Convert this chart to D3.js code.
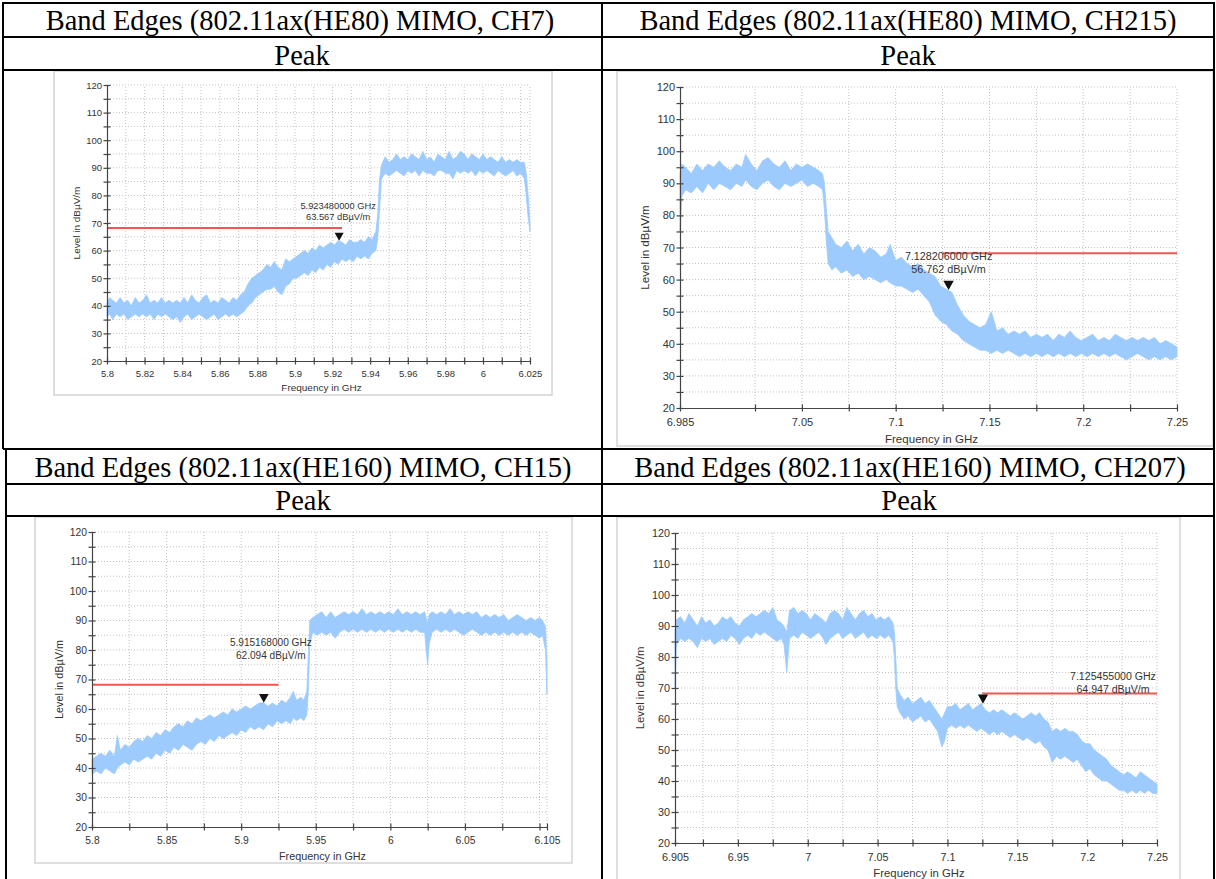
<!DOCTYPE html>
<html lang="en">
<head>
<meta charset="utf-8">
<title>Band Edges - Peak</title>
<style>
  body { margin: 0; background: #fff; }
  .cell-text { font-family: "Liberation Serif", "Times New Roman", serif; fill: #000; }
  .chart text { font-family: "Liberation Sans", Arial, sans-serif; fill: #333; }
  .grid line { stroke: #c2c2c2; stroke-width: 1; stroke-dasharray: 1,2; }
  .axis path, .axis line { stroke: #444; stroke-width: 1.2; }
</style>
<script src="https://d3js.org/d3.v7.min.js"></script>
</head>
<body>
<svg width="1216" height="879"></svg>
<script>
// ---- data ----
var titles = [
  "Band Edges (802.11ax(HE80) MIMO, CH7)",
  "Band Edges (802.11ax(HE80) MIMO, CH215)",
  "Band Edges (802.11ax(HE160) MIMO, CH15)",
  "Band Edges (802.11ax(HE160) MIMO, CH207)"
];
var detector = "Peak";

var yTicks = [20, 25, 30, 35, 40, 45, 50, 55, 60, 65, 70, 75, 80, 85, 90, 95, 100, 105, 110, 115, 120];
var yLabels = [20, 30, 40, 50, 60, 70, 80, 90, 100, 110, 120];

var ch7Ticks = [5.8, 5.81, 5.82, 5.83, 5.84, 5.85, 5.86, 5.87, 5.88, 5.89, 5.9, 5.91, 5.92, 5.93, 5.94, 5.95, 5.96, 5.97, 5.98, 5.99, 6, 6.01, 6.02, 6.025];
var ch7Labels = [5.8, 5.82, 5.84, 5.86, 5.88, 5.9, 5.92, 5.94, 5.96, 5.98, 6, 6.025];
var ch215Ticks = [6.985, 7.025, 7.05, 7.075, 7.1, 7.125, 7.15, 7.175, 7.2, 7.225, 7.25];
var ch215Labels = [6.985, 7.05, 7.1, 7.15, 7.2, 7.25];
var ch15Ticks = [5.8, 5.825, 5.85, 5.875, 5.9, 5.925, 5.95, 5.975, 6, 6.025, 6.05, 6.075, 6.1, 6.105];
var ch15Labels = [5.8, 5.85, 5.9, 5.95, 6, 6.05, 6.105];
var ch207Ticks = [6.905, 6.925, 6.95, 6.975, 7, 7.025, 7.05, 7.075, 7.1, 7.125, 7.15, 7.175, 7.2, 7.225, 7.25];
var ch207Labels = [6.905, 6.95, 7, 7.05, 7.1, 7.15, 7.2, 7.25];

// limit line level (dBµV/m) and its frequency span per plot
var limitLevel = 68.2;
var ch7Limit = [5.8, 5.925];
var ch215Limit = [7.125, 7.25];
var ch15Limit = [5.8, 5.925];
var ch207Limit = [7.125, 7.25];

// peak markers [GHz, dBµV/m]
var ch7Marker = [5.92348, 63.567];
var ch215Marker = [7.128206, 56.762];
var ch15Marker = [5.915168, 62.094];
var ch207Marker = [7.125455, 64.947];

// noisy trace as envelope: [GHz, low, high]
var ch7Trace = [
  [5.800, 36, 41], [5.8015, 37, 43], [5.803, 35, 42], [5.805, 37, 41], [5.807, 36, 43],
  [5.809, 37, 41], [5.811, 35, 42], [5.813, 36, 40], [5.815, 37, 43], [5.817, 36, 41],
  [5.819, 37, 42], [5.821, 36, 44], [5.823, 37, 41], [5.825, 35, 42], [5.827, 37, 41],
  [5.829, 36, 43], [5.831, 37, 41], [5.833, 36, 42], [5.835, 35, 41], [5.837, 36, 42],
  [5.839, 34, 41], [5.841, 36, 43], [5.843, 37, 41], [5.845, 35, 44], [5.847, 36, 42],
  [5.849, 37, 41], [5.851, 36, 43], [5.853, 35, 44], [5.855, 36, 41], [5.857, 37, 42],
  [5.859, 35, 41], [5.861, 36, 43], [5.863, 37, 42], [5.865, 36, 41], [5.867, 37, 43],
  [5.869, 36, 42], [5.871, 37, 44], [5.873, 38, 45], [5.875, 40, 48], [5.877, 41, 50],
  [5.879, 43, 51], [5.881, 44, 52], [5.883, 45, 53], [5.885, 46, 55], [5.887, 46, 54],
  [5.889, 47, 56], [5.891, 45, 54], [5.893, 44, 53], [5.895, 47, 57], [5.897, 48, 56],
  [5.899, 50, 57], [5.901, 50, 58], [5.903, 51, 59], [5.905, 52, 60], [5.907, 51, 59],
  [5.909, 53, 61], [5.911, 52, 60], [5.913, 54, 62], [5.915, 53, 61], [5.917, 55, 62],
  [5.919, 54, 63], [5.921, 56, 62], [5.923, 55, 63.6], [5.925, 57, 63], [5.927, 56, 62],
  [5.929, 57, 64], [5.931, 56, 63], [5.933, 58, 63], [5.935, 57, 64], [5.937, 58, 63],
  [5.939, 57, 65], [5.941, 59, 64], [5.943, 60, 67], [5.944, 64, 73], [5.945, 75, 86],
  [5.946, 86, 91], [5.948, 88, 94], [5.950, 87, 92], [5.952, 88, 93], [5.954, 89, 95],
  [5.956, 88, 93], [5.958, 87, 94], [5.960, 89, 93], [5.962, 88, 95], [5.964, 89, 94],
  [5.966, 87, 93], [5.968, 89, 96], [5.970, 88, 93], [5.972, 88, 94], [5.974, 87, 92],
  [5.976, 89, 95], [5.978, 89, 94], [5.980, 88, 93], [5.982, 88, 96], [5.984, 86, 93],
  [5.986, 89, 94], [5.988, 88, 96], [5.990, 89, 95], [5.992, 88, 93], [5.994, 89, 95],
  [5.996, 87, 94], [5.998, 89, 93], [6.000, 88, 95], [6.002, 89, 93], [6.004, 88, 94],
  [6.006, 87, 93], [6.008, 89, 92], [6.010, 88, 94], [6.012, 87, 92], [6.014, 88, 93],
  [6.016, 89, 92], [6.018, 87, 93], [6.020, 88, 92], [6.022, 86, 92], [6.023, 80, 88],
  [6.024, 72, 80], [6.025, 67, 70]
];

var ch215Trace = [
  [6.985, 75, 93], [6.986, 86, 96], [6.988, 88, 95], [6.991, 87, 93], [6.994, 89, 96],
  [6.997, 87, 94], [7.000, 90, 96], [7.003, 88, 95], [7.006, 90, 97], [7.009, 89, 95],
  [7.012, 88, 94], [7.015, 90, 96], [7.018, 89, 95], [7.020, 91, 99], [7.023, 89, 96],
  [7.026, 88, 94], [7.029, 90, 97], [7.032, 91, 98], [7.035, 89, 96], [7.038, 88, 95],
  [7.041, 90, 97], [7.044, 89, 94], [7.047, 90, 96], [7.050, 91, 95], [7.053, 89, 96],
  [7.056, 90, 95], [7.059, 89, 94], [7.061, 88, 93], [7.062, 82, 90], [7.063, 72, 82],
  [7.064, 65, 75], [7.066, 63, 73], [7.068, 64, 71], [7.071, 62, 70], [7.074, 63, 72],
  [7.077, 61, 69], [7.080, 62, 71], [7.083, 60, 68], [7.086, 61, 70], [7.089, 60, 69],
  [7.092, 59, 67], [7.095, 60, 68], [7.097, 59, 71], [7.100, 58, 66], [7.103, 58, 67],
  [7.106, 57, 65], [7.109, 56, 64], [7.112, 57, 65], [7.115, 55, 63], [7.118, 53, 62],
  [7.121, 49, 61], [7.124, 47, 58], [7.127, 46, 57], [7.130, 44, 56], [7.133, 43, 52],
  [7.136, 41, 49], [7.139, 40, 47], [7.142, 39, 46], [7.145, 38, 45], [7.148, 38, 46],
  [7.151, 37, 50], [7.154, 38, 44], [7.157, 37, 45], [7.160, 38, 43], [7.163, 37, 44],
  [7.166, 36, 43], [7.169, 37, 44], [7.172, 36, 42], [7.175, 37, 43], [7.178, 36, 42],
  [7.181, 37, 43], [7.184, 36, 41], [7.187, 37, 43], [7.190, 36, 42], [7.193, 37, 44],
  [7.196, 36, 42], [7.199, 37, 41], [7.202, 36, 42], [7.205, 37, 43], [7.208, 36, 41],
  [7.211, 37, 42], [7.214, 36, 41], [7.217, 37, 43], [7.220, 36, 42], [7.223, 35, 41],
  [7.226, 36, 42], [7.229, 37, 41], [7.232, 36, 42], [7.235, 35, 41], [7.238, 36, 42],
  [7.241, 35, 40], [7.244, 36, 41], [7.247, 35, 40], [7.250, 36, 39]
];

var ch15Trace = [
  [5.800, 38, 43], [5.803, 39, 44], [5.806, 38, 45], [5.809, 40, 44], [5.812, 39, 46],
  [5.815, 38, 44], [5.817, 40, 51], [5.819, 41, 46], [5.822, 42, 48], [5.825, 41, 47],
  [5.828, 43, 49], [5.831, 42, 50], [5.834, 43, 49], [5.837, 44, 51], [5.840, 43, 50],
  [5.843, 45, 52], [5.846, 44, 51], [5.849, 46, 53], [5.852, 45, 52], [5.855, 47, 54],
  [5.858, 46, 55], [5.861, 48, 54], [5.864, 47, 56], [5.867, 46, 55], [5.870, 48, 57],
  [5.873, 49, 56], [5.876, 48, 57], [5.879, 50, 58], [5.882, 49, 57], [5.885, 51, 58],
  [5.888, 50, 59], [5.891, 51, 58], [5.894, 52, 60], [5.897, 51, 59], [5.900, 53, 60],
  [5.903, 52, 61], [5.906, 54, 60], [5.909, 53, 61], [5.912, 54, 62], [5.915, 53, 62.1],
  [5.918, 55, 61], [5.921, 54, 62], [5.924, 56, 61], [5.927, 55, 63], [5.930, 56, 62],
  [5.933, 55, 64], [5.935, 57, 66], [5.937, 56, 63], [5.940, 57, 64], [5.942, 56, 63],
  [5.944, 58, 66], [5.945, 66, 78], [5.946, 82, 90], [5.948, 86, 91], [5.951, 85, 92],
  [5.954, 86, 93], [5.957, 85, 91], [5.960, 86, 93], [5.963, 84, 91], [5.966, 86, 92],
  [5.969, 87, 93], [5.972, 86, 92], [5.975, 87, 93], [5.978, 86, 92], [5.981, 87, 94],
  [5.984, 86, 92], [5.987, 87, 93], [5.990, 86, 92], [5.993, 87, 93], [5.996, 86, 92],
  [5.999, 87, 93], [6.002, 86, 92], [6.005, 87, 94], [6.008, 86, 92], [6.011, 87, 93],
  [6.014, 86, 92], [6.017, 87, 93], [6.020, 86, 92], [6.023, 86, 93], [6.024, 80, 91],
  [6.025, 75, 89], [6.026, 82, 92], [6.028, 86, 93], [6.031, 87, 92], [6.034, 86, 93],
  [6.037, 87, 92], [6.040, 86, 94], [6.043, 87, 92], [6.046, 86, 93], [6.049, 85, 92],
  [6.052, 86, 93], [6.055, 87, 92], [6.058, 86, 93], [6.061, 85, 91], [6.064, 86, 92],
  [6.067, 85, 91], [6.070, 86, 92], [6.073, 85, 91], [6.076, 86, 92], [6.079, 85, 90],
  [6.082, 86, 91], [6.085, 85, 92], [6.088, 86, 91], [6.091, 85, 90], [6.094, 86, 91],
  [6.097, 85, 90], [6.100, 84, 91], [6.102, 85, 90], [6.104, 80, 88], [6.105, 65, 75]
];

var ch207Trace = [
  [6.905, 70, 88], [6.906, 84, 92], [6.909, 86, 93], [6.912, 85, 91], [6.915, 86, 94],
  [6.918, 85, 92], [6.921, 83, 90], [6.924, 86, 93], [6.927, 85, 91], [6.930, 86, 92],
  [6.933, 84, 90], [6.936, 85, 91], [6.939, 86, 93], [6.942, 85, 92], [6.945, 87, 93],
  [6.948, 86, 91], [6.951, 84, 90], [6.954, 86, 92], [6.957, 87, 93], [6.960, 86, 94],
  [6.963, 88, 93], [6.966, 87, 94], [6.969, 88, 95], [6.972, 87, 94], [6.975, 86, 96],
  [6.978, 85, 92], [6.981, 86, 91], [6.983, 84, 90], [6.985, 75, 88], [6.987, 86, 95],
  [6.990, 87, 96], [6.993, 86, 94], [6.996, 88, 95], [6.999, 87, 94], [7.002, 86, 92],
  [7.005, 87, 94], [7.008, 88, 93], [7.011, 86, 92], [7.013, 84, 91], [7.016, 86, 94],
  [7.019, 87, 95], [7.022, 88, 94], [7.025, 86, 92], [7.028, 87, 96], [7.031, 88, 94],
  [7.034, 86, 92], [7.037, 87, 94], [7.040, 88, 95], [7.043, 86, 93], [7.046, 87, 94],
  [7.049, 86, 92], [7.052, 87, 93], [7.055, 86, 92], [7.058, 87, 93], [7.061, 85, 91],
  [7.062, 80, 88], [7.063, 70, 80], [7.064, 64, 70], [7.066, 62, 68], [7.069, 60, 66],
  [7.072, 61, 67], [7.075, 59, 65], [7.078, 60, 66], [7.081, 61, 67], [7.084, 59, 65],
  [7.087, 60, 66], [7.090, 58, 64], [7.093, 56, 62], [7.096, 51, 60], [7.098, 53, 62],
  [7.100, 57, 64], [7.103, 58, 64], [7.106, 57, 65], [7.109, 58, 63], [7.112, 57, 64],
  [7.115, 58, 65], [7.118, 57, 63], [7.121, 56, 64], [7.124, 57, 65], [7.127, 56, 63],
  [7.130, 55, 62], [7.133, 56, 63], [7.136, 55, 62], [7.139, 56, 63], [7.142, 55, 62],
  [7.145, 54, 61], [7.148, 55, 62], [7.151, 54, 61], [7.154, 53, 60], [7.157, 54, 61],
  [7.160, 53, 62], [7.163, 52, 61], [7.166, 53, 62], [7.169, 51, 60], [7.172, 50, 59],
  [7.175, 46, 56], [7.178, 48, 57], [7.181, 47, 56], [7.184, 48, 57], [7.187, 47, 56],
  [7.190, 46, 56], [7.193, 47, 55], [7.196, 45, 53], [7.199, 43, 52], [7.202, 44, 52],
  [7.205, 42, 50], [7.208, 41, 49], [7.211, 40, 48], [7.214, 40, 47], [7.217, 39, 45],
  [7.220, 38, 44], [7.223, 37, 43], [7.226, 37, 42], [7.229, 36, 43], [7.232, 37, 42],
  [7.235, 36, 41], [7.238, 37, 43], [7.241, 36, 42], [7.244, 37, 41], [7.247, 36, 40],
  [7.250, 36, 39]
];

// ---- layout ----
var svg = d3.select("svg");

// each panel: frame box, plot box [left, top(120), right, bottom(20)], font size, marker label offset
var panels = [
  { trace: ch7Trace, ticks: ch7Ticks, labels: ch7Labels, limit: ch7Limit, marker: ch7Marker,
    frame: [54, 71, 552, 395], plot: [107, 85, 530, 361], fs: 9.5, lab: [-1, -35] },
  { trace: ch215Trace, ticks: ch215Ticks, labels: ch215Labels, limit: ch215Limit, marker: ch215Marker,
    frame: [617, 71, 1213, 446], plot: [680, 87, 1177, 408], fs: 11, lab: [0, -34] },
  { trace: ch15Trace, ticks: ch15Ticks, labels: ch15Labels, limit: ch15Limit, marker: ch15Marker,
    frame: [35, 517, 572, 863], plot: [92, 532, 547, 827], fs: 10.3, lab: [7, -60] },
  { trace: ch207Trace, ticks: ch207Ticks, labels: ch207Labels, limit: ch207Limit, marker: ch207Marker,
    frame: [617, 517, 1180, 900], plot: [675, 533, 1157, 843], fs: 10.8, lab: [130, -27] }
];

function fmtTick(v) { return String(+v.toFixed(4)); }
function hasValue(list, v) { return list.some(function(d) { return Math.abs(d - v) < 1e-9; }); }

panels.forEach(function(p) {
  var g = svg.append("g").attr("class", "chart");
  var fs = p.fs;

  // picture frame
  g.append("rect")
    .attr("x", p.frame[0]).attr("y", p.frame[1])
    .attr("width", p.frame[2] - p.frame[0]).attr("height", p.frame[3] - p.frame[1])
    .attr("fill", "#fff").attr("stroke", "#d4d4d4").attr("stroke-width", 1.5);

  var x = d3.scaleLinear()
    .domain([p.ticks[0], p.ticks[p.ticks.length - 1]])
    .range([p.plot[0], p.plot[2]]);
  var y = d3.scaleLinear()
    .domain([yTicks[0], yTicks[yTicks.length - 1]])
    .range([p.plot[3], p.plot[1]]);

  // dotted grid
  var grid = g.append("g").attr("class", "grid");
  grid.selectAll(".gv").data(p.ticks.slice(1)).enter().append("line")
    .attr("x1", function(d) { return x(d); }).attr("x2", function(d) { return x(d); })
    .attr("y1", y(yTicks[0])).attr("y2", y(yTicks[yTicks.length - 1]));
  grid.selectAll(".gh").data(yTicks.slice(1)).enter().append("line")
    .attr("y1", function(d) { return y(d); }).attr("y2", function(d) { return y(d); })
    .attr("x1", x.range()[0]).attr("x2", x.range()[1]);

  // spectrum trace
  var band = d3.area()
    .x(function(d) { return x(d[0]); })
    .y0(function(d) { return y(d[1]); })
    .y1(function(d) { return y(d[2]); });
  g.append("path")
    .datum(p.trace)
    .attr("d", band)
    .attr("fill", "#9ecbfd")
    .attr("stroke", "#9ecbfd")
    .attr("stroke-width", 0.8)
    .attr("stroke-linejoin", "round");

  // limit line
  g.append("line")
    .attr("x1", x(p.limit[0])).attr("x2", x(p.limit[1]))
    .attr("y1", y(limitLevel)).attr("y2", y(limitLevel))
    .attr("stroke", "#f65353").attr("stroke-width", 2);

  // axes, ticks cross the axis line
  var ya = g.append("g").attr("class", "axis")
    .attr("transform", "translate(" + x.range()[0] + ",0)")
    .call(d3.axisLeft(y).tickValues(yTicks).tickSizeInner(3.5).tickSizeOuter(0).tickPadding(1.5)
      .tickFormat(function(d) { return hasValue(yLabels, d) ? d : ""; }));
  ya.selectAll(".tick line").attr("x1", 3.5);

  var xa = g.append("g").attr("class", "axis")
    .attr("transform", "translate(0," + y.range()[0] + ")")
    .call(d3.axisBottom(x).tickValues(p.ticks).tickSizeInner(3.5).tickSizeOuter(0).tickPadding(fs * 0.6)
      .tickFormat(function(d) { return hasValue(p.labels, d) ? fmtTick(d) : ""; }));
  xa.selectAll(".tick line").attr("y1", -3.5);

  g.selectAll(".axis text")
    .attr("font-family", "Liberation Sans, Arial, sans-serif")
    .attr("font-size", fs).attr("fill", "#333");

  // axis titles
  g.append("text")
    .attr("x", (x.range()[0] + x.range()[1]) / 2 + 3)
    .attr("y", y.range()[0] + fs * 2.8)
    .attr("dy", "0.35em")
    .attr("text-anchor", "middle")
    .attr("font-size", fs * 1.05)
    .text("Frequency in GHz");
  g.append("text")
    .attr("transform", "translate(" + (x.range()[0] - fs * 3.2) + "," + (y.range()[0] + y.range()[1]) / 2 + ") rotate(-90)")
    .attr("dy", "0.35em")
    .attr("text-anchor", "middle")
    .attr("font-size", fs * 1.05)
    .text("Level in dBµV/m");

  // peak marker
  var mx = x(p.marker[0]), my = y(p.marker[1]);
  var tw = fs * 0.95, th = fs * 0.85;
  g.append("path")
    .attr("d", "M" + (mx - tw / 2) + "," + (my - th) + "L" + (mx + tw / 2) + "," + (my - th) + "L" + mx + "," + my + "Z")
    .attr("fill", "#111");
  var lab = g.append("text")
    .attr("text-anchor", "middle")
    .attr("font-size", fs * 0.98)
    .attr("fill", "#222");
  lab.append("tspan")
    .attr("x", mx + p.lab[0]).attr("y", my + p.lab[1]).attr("dy", "0.35em")
    .text(p.marker[0].toFixed(9) + " GHz");
  lab.append("tspan")
    .attr("x", mx + p.lab[0]).attr("y", my + p.lab[1] + fs * 1.2).attr("dy", "0.35em")
    .text(p.marker[1].toFixed(3) + " dBµV/m");
});

// ---- table grid and header cells ----
var tbl = svg.append("g");
var hLines = [[3, 3, 1214], [37, 3, 1214], [70, 3, 1214], [449, 3, 1214], [484, 6, 1214], [516, 6, 1214]];
tbl.selectAll(".h").data(hLines).enter().append("line")
  .attr("x1", function(d) { return d[1]; }).attr("x2", function(d) { return d[2]; })
  .attr("y1", function(d) { return d[0]; }).attr("y2", function(d) { return d[0]; })
  .attr("stroke", "#000").attr("stroke-width", 2);
var vLines = [[3, 2, 449], [6, 449, 879], [602, 2, 879], [1214, 2, 879]];
tbl.selectAll(".v").data(vLines).enter().append("line")
  .attr("x1", function(d) { return d[0]; }).attr("x2", function(d) { return d[0]; })
  .attr("y1", function(d) { return d[1]; }).attr("y2", function(d) { return d[2]; })
  .attr("stroke", "#000").attr("stroke-width", 2);

var cells = [
  [titles[0], 300, 20], [titles[1], 908, 20], [detector, 302, 55], [detector, 908, 55],
  [titles[2], 303, 467], [titles[3], 910, 467], [detector, 303, 500], [detector, 909, 500]
];
tbl.selectAll(".cell").data(cells).enter().append("text")
  .attr("class", "cell-text")
  .attr("x", function(d) { return d[1]; })
  .attr("y", function(d) { return d[2]; })
  .attr("dy", "0.34em")
  .attr("text-anchor", "middle")
  .attr("font-size", 28.5)
  .text(function(d) { return d[0]; });
</script>
</body>
</html>
